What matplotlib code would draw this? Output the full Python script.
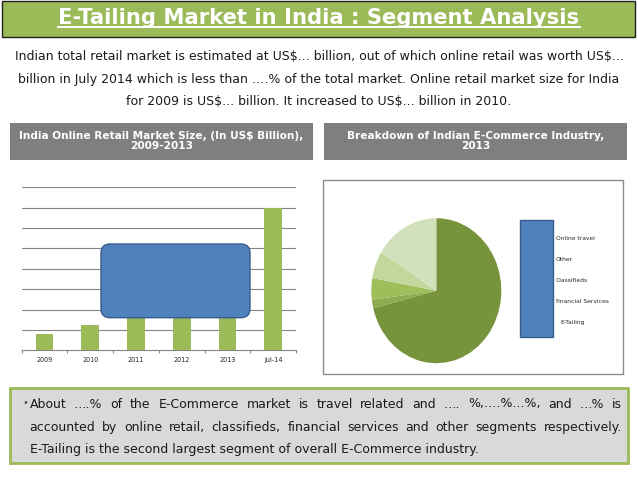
import matplotlib
matplotlib.use("Agg")
import numpy as np
import matplotlib.pyplot as plt
from matplotlib.patches import Rectangle, FancyBboxPatch
from matplotlib.transforms import IdentityTransform
from matplotlib.lines import Line2D

W, H = 638, 479

# bar chart data (values hidden behind the box are estimates)
years = ["2009", "2010", "2011", "2012", "2013", "Jul-14"]
market_size = [0.8, 1.25, 1.9, 2.6, 3.3, 7.0]

# pie data
segments = ["Online travel", "Other", "Classifieds", "financial Services", "E-Tailing"]
segment_share = [71.1, 1.9, 4.8, 6.1, 16.1]
segment_colors = ["#77933C", "#8EAB4F", "#9DBE5B", "#C3D69B", "#D3E0BC"]

title = "E-Tailing Market in India : Segment Analysis"
intro = ["Indian total retail market is estimated at US$... billion, out of which online retail was worth US$...",
         "billion in July 2014 which is less than \u2026.% of the total market. Online retail market size for India",
         "for 2009 is US$... billion. It increased to US$... billion in 2010."]
left_head = "India Online Retail Market Size, (In US$ Billion),\n2009-2013"
right_head = "Breakdown of Indian E-Commerce Industry,\n2013"
notes = ["About \u2026.% of the E-Commerce market is travel related and \u2026. %,\u2026.%...%, and \u2026% is",
         "accounted by online retail, classifieds, financial services and other segments respectively.",
         "E-Tailing is the second largest segment of overall E-Commerce industry."]

green = "#9BBB59"
blue = "#4F81BD"
txt = "#1A1A1A"

fig = plt.figure(figsize=(W / 100, H / 100), dpi=100)
px = IdentityTransform()


def Y(y):
    return H - y


def box(x, y, w, h, **kw):
    fig.add_artist(Rectangle((x, Y(y + h)), w, h, transform=px, **kw))


def label(x, y, s, **kw):
    return fig.text(x, Y(y), s, transform=px, parse_math=False, **kw)


# title bar
box(2, 0.5, 633, 36, facecolor=green, edgecolor="#222222", lw=1)
t = label(319, 23.5, title, ha="center", va="baseline", fontsize=15.2, fontweight="bold", color="white")
r = fig.canvas.get_renderer()
bb = t.get_window_extent(r)
fig.add_artist(Line2D([bb.x0, bb.x1], [Y(27.3), Y(27.3)], transform=px, color="white", lw=1.4))

# intro paragraph
for line, yb in zip(intro, [60, 83, 105]):
    label(319, yb, line, ha="center", va="baseline", fontsize=9, color=txt)

# grey headers
for x0, head in [(10, left_head), (324, right_head)]:
    box(x0, 122.5, 303, 37.5, facecolor="#7F7F7F", edgecolor="none")
    label(x0 + 151.5, 141, head, ha="center", va="center",
          fontsize=7.6, fontweight="bold", color="white", linespacing=1.0)

# bar chart
ax = fig.add_axes([21.7 / W, (H - 350.3) / H, (296 - 21.7) / W, (350.3 - 187.3) / H])
ax.bar(range(len(years)), market_size, width=0.385, color=green, zorder=3)
ax.set_xlim(-0.5, len(years) - 0.5)
ax.set_ylim(0, 8)
ax.set_yticks(range(1, 9))
ax.yaxis.grid(True, color="#868686", lw=0.8)
ax.tick_params(axis="y", length=0, labelleft=False)
ax.set_xticks(np.arange(-0.5, len(years), 1))
ax.set_xticklabels([])
ax.set_xticks(range(len(years)), minor=True)
ax.set_xticklabels(years, minor=True, fontsize=4.7, color="#222222")
ax.tick_params(axis="x", which="major", length=2.5, color="#868686")
ax.tick_params(axis="x", which="minor", length=0, pad=5)
for s in ["left", "right", "top"]:
    ax.spines[s].set_visible(False)
ax.spines["bottom"].set_color("#868686")
ax.patch.set_alpha(0)

# blue shape over the bars
fig.add_artist(FancyBboxPatch((101, Y(317.7)), 149, 73.7, boxstyle="round,pad=0,rounding_size=9",
                              facecolor=blue, edgecolor="#385D8A", lw=1, transform=px))

# pie chart frame
box(323.3, 180, 300, 194, facecolor="none", edgecolor="#8C8C8C", lw=1)

ax2 = fig.add_axes([(436.3 - 65) / W, (H - 290.7 - 72.5) / H, 130 / W, 145 / H])
ax2.pie(segment_share, colors=segment_colors, startangle=90, counterclock=False,
        wedgeprops=dict(linewidth=0))
ax2.set_aspect("auto")
ax2.set_xlim(-1, 1)
ax2.set_ylim(-1, 1)
ax2.axis("off")

# legend (covered by a blue shape)
box(520, 220, 32.7, 117.3, facecolor=blue, edgecolor="#385D8A", lw=1)
for i, name in enumerate(segments):
    xl = 560 if name == "E-Tailing" else 555.7
    label(xl, 238.3 + 21 * i, name, ha="left", va="center", fontsize=4.3, color="#262626")

# bottom note box
box(10, 387.5, 618, 75, facecolor="#D9D9D9", edgecolor=green, lw=2)
label(23, 406, "\u2022", fontsize=7, color="#555555", va="baseline")


def justify(line, x0, x1, yb, size):
    words = line.split()
    texts = [label(0, 0, w, fontsize=size, color=txt, va="baseline") for w in words]
    rr = fig.canvas.get_renderer()
    widths = [tt.get_window_extent(rr).width for tt in texts]
    gap = (x1 - x0 - sum(widths)) / (len(words) - 1)
    x = x0
    for tt, w in zip(texts, widths):
        tt.set_position((x, Y(yb)))
        x += w + gap


justify(notes[0], 29.5, 622, 407.5, 9)
justify(notes[1], 29.5, 622, 431, 9)
label(29.5, 453.3, notes[2], fontsize=9, color=txt, va="baseline")

fig.savefig("out.png", dpi=100)
